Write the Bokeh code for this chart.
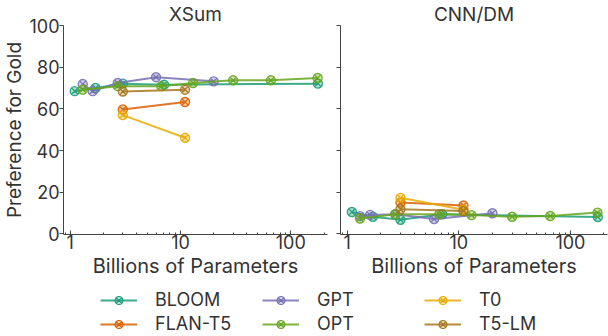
from bokeh.plotting import figure
from bokeh.models import (Range1d, Legend, LegendItem, CustomJSTickFormatter,
                          FixedTicker, NumeralTickFormatter)
from bokeh.layouts import column, row
from bokeh.embed import file_html
from bokeh.resources import INLINE

# ---------------- data ----------------
models = ["BLOOM", "FLAN-T5", "GPT", "OPT", "T0", "T5-LM"]
colors = ["#1b9e77", "#d95f02", "#7570b3", "#66a61e", "#e6ab02", "#a6761d"]

bloom_x = [1.1, 1.7, 3.0, 7.1, 176]
flan_x = [3.0, 11.0]
gpt_x = [1.3, 1.6, 2.7, 6.0, 20.0]
opt_x = [1.3, 2.7, 6.7, 13.0, 30.0, 66.0, 175.0]
t0_x = [3.0, 11.0]
t5lm_x = [3.0, 11.0]

xsum_bloom = [68.5, 70.0, 72.1, 71.6, 72.1]
xsum_flan = [59.7, 63.3]
xsum_gpt = [71.9, 68.5, 72.4, 75.2, 73.2]
xsum_opt = [69.2, 70.9, 70.9, 72.4, 73.7, 73.7, 74.8]
xsum_t0 = [57.0, 46.1]
xsum_t5lm = [68.3, 69.2]

cnn_bloom = [10.5, 8.2, 6.8, 9.4, 8.1]
cnn_flan = [15.0, 13.6]
cnn_gpt = [8.5, 9.1, 9.4, 7.1, 9.9]
cnn_opt = [7.4, 9.4, 9.4, 9.0, 8.2, 8.6, 10.2]
cnn_t0 = [17.3, 11.6]
cnn_t5lm = [11.8, 11.0]

y_ticks = [0, 20, 40, 60, 80, 100]
x_major = [1, 10, 100]
x_minor = [0.9, 2, 3, 4, 5, 6, 7, 8, 9, 20, 30, 40, 50, 60, 70, 80, 90, 200]

xs = [bloom_x, flan_x, gpt_x, opt_x, t0_x, t5lm_x]
xsum = [xsum_bloom, xsum_flan, xsum_gpt, xsum_opt, xsum_t0, xsum_t5lm]
cnn = [cnn_bloom, cnn_flan, cnn_gpt, cnn_opt, cnn_t0, cnn_t5lm]

FONT = "Inter"
TXT = "#333333"
AX = "#444444"
PANEL_H = 284


def make_panel(title, ys, left, right, width, show_ylabels):
    p = figure(width=width, height=PANEL_H, x_axis_type="log",
               x_range=Range1d(0.87, 215), y_range=Range1d(-0.3, 100),
               output_backend="svg", toolbar_location=None,
               min_border_left=left, min_border_right=right,
               min_border_top=22, min_border_bottom=PANEL_H - 22 - 212)
    p.outline_line_color = None
    p.grid.visible = False
    p.background_fill_color = "white"
    p.title.text = title
    p.title.align = "center"
    p.title.text_font = FONT
    p.title.text_font_size = "19px"
    p.title.text_font_style = "normal"
    p.title.text_color = TXT
    p.title.standoff = 0
    p.title.offset = 0

    xa = p.xaxis[0]
    xa.ticker = FixedTicker(ticks=x_major, minor_ticks=x_minor)
    xa.formatter = NumeralTickFormatter(format="0")
    xa.major_tick_in = 4
    xa.major_tick_out = 0
    xa.minor_tick_in = 2
    xa.minor_tick_out = 0
    xa.axis_label = "Billions of Parameters"
    xa.axis_label_text_font = FONT
    xa.axis_label_text_font_size = "20px"
    xa.axis_label_text_font_style = "normal"
    xa.axis_label_text_color = TXT
    xa.axis_label_standoff = 2
    xa.major_label_text_font = FONT
    xa.major_label_text_font_size = "18px"
    xa.major_label_text_color = TXT
    xa.major_label_standoff = 0
    xa.axis_line_color = AX
    xa.major_tick_line_color = AX
    xa.minor_tick_line_color = AX

    ya = p.yaxis[0]
    ya.ticker = FixedTicker(ticks=y_ticks)
    ya.major_tick_in = 0
    ya.major_tick_out = 4
    ya.minor_tick_line_color = None
    ya.axis_line_color = AX
    ya.major_tick_line_color = AX
    ya.major_label_text_font = FONT
    ya.major_label_text_font_size = "18px"
    ya.major_label_text_color = TXT
    ya.major_label_standoff = 0
    if show_ylabels:
        ya.axis_label = "Preference for Gold"
        ya.axis_label_text_font = FONT
        ya.axis_label_text_font_size = "19px"
        ya.axis_label_text_font_style = "normal"
        ya.axis_label_text_color = TXT
        ya.axis_label_standoff = 0
    else:
        ya.formatter = CustomJSTickFormatter(code="return ''")
        ya.major_label_standoff = 0

    for x, y, c in zip(xs, ys, colors):
        p.line(x, y, line_color=c, line_width=2, line_alpha=0.85)
        p.scatter(x, y, marker="circle_x", size=9, line_color=c, line_width=1.4,
                  fill_color=c, fill_alpha=0.3, line_alpha=0.9)
    return p


p1 = make_panel("XSum", xsum, 60, 8, 335, True)
p2 = make_panel("CNN/DM", cnn, 5, 1, 273, False)

# legend strip (proxy renderers carry the XSum data but are hidden)
p3 = figure(width=608, height=336 - PANEL_H, x_range=Range1d(0, 1),
            y_range=Range1d(0, 1), x_axis_type=None, y_axis_type=None,
            output_backend="svg", toolbar_location=None, min_border=0)
p3.outline_line_color = None
p3.grid.visible = False

items = []
for name, x, y, c in zip(models, xs, xsum, colors):
    lr = p3.line(x, y, line_color=c, line_width=2, line_alpha=0.85, visible=False)
    sr = p3.scatter(x, y, marker="circle_x", size=8, line_color=c, line_width=1.2,
                    fill_color=c, fill_alpha=0.3, visible=False)
    items.append(LegendItem(label=name, renderers=[lr, sr]))

col_x = [100, 262, 424]
for i, cx in enumerate(col_x):
    leg = Legend(items=items[2 * i:2 * i + 2], location=(cx, 2),
                 orientation="vertical", glyph_width=37, glyph_height=20,
                 label_height=20, spacing=3, padding=0, margin=0,
                 label_standoff=18, border_line_color=None,
                 background_fill_alpha=0, label_text_font=FONT,
                 label_text_font_size="18px", label_text_color=TXT,
                 inactive_fill_alpha=0)
    p3.add_layout(leg)

layout = column(row(p1, p2), p3)
open("out.html", "w").write(file_html(layout, INLINE))
